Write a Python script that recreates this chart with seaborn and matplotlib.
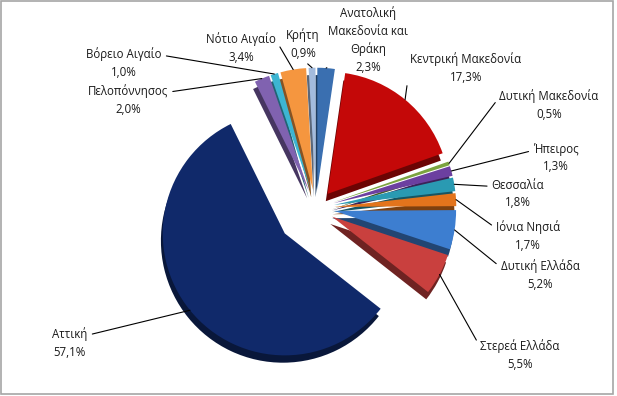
import numpy as np
import matplotlib
matplotlib.use("Agg")
import matplotlib.pyplot as plt
import matplotlib.colors as mcolors
from matplotlib.patches import Rectangle
import seaborn as sns

# ---- data ----
regions = ["Ανατολική\nΜακεδονία και\nΘράκη", "Κεντρική Μακεδονία", "Δυτική Μακεδονία",
           "Ήπειρος", "Θεσσαλία", "Ιόνια Νησιά", "Δυτική Ελλάδα", "Στερεά Ελλάδα",
           "Αττική", "Πελοπόννησος", "Βόρειο Αιγαίο", "Νότιο Αιγαίο", "Κρήτη"]
shares = [2.3, 17.3, 0.5, 1.3, 1.8, 1.7, 5.2, 5.5, 57.1, 2.0, 1.0, 3.4, 0.9]

# ---- styles ----
colors = ["#3A6FB0", "#C40808", "#7BA33F", "#6C3FA0", "#2A9AB2", "#E3741C", "#3D7ED0",
          "#C9403E", "#10296A", "#8062B0", "#3DB5D2", "#F5963F", "#A3BBDD"]
explode = [0.15, 0.15, 0.15, 0.15, 0.15, 0.15, 0.15, 0.15, 0.33, 0.15, 0.15, 0.15, 0.15]
# label text centre (px), relpos of leader on text box
label_pos = [(368, 40, (0.0, 0.1)), (466, 68, (0.0, 0.75)), (549, 105, (0.0, 0.75)),
             (556, 158, (0.0, 0.75)), (518, 194, (0.0, 0.75)), (528, 236, (0.0, 0.75)),
             (540, 275, (0.0, 0.75)), (520, 355, (0.0, 0.75)), (70, 343, (1.0, 0.75)),
             (128, 100, (1.0, 0.75)), (124, 63, (1.0, 0.75)), (241, 48, (1.0, 0.75)),
             (303, 44, (0.5, 0.0))]

W, H = 617, 396
sns.set_theme(style="white")
plt.rcParams["font.family"] = ["Open Sans", "DejaVu Sans"]

fig = plt.figure(figsize=(W / 100, H / 100), dpi=100)
fig.patch.set_facecolor("white")
fig.add_artist(Rectangle((0.002, 0.004), 0.992, 0.994, transform=fig.transFigure,
                         fill=False, edgecolor="#A6A6A6", lw=1.2))

R = 122.0  # px per data unit
cxp, cyp = 316, 208
ax = fig.add_axes([(cxp - 1.5 * R) / W, 1 - (cyp + 1.5 * R) / H, 3 * R / W, 3 * R / H])

def darker(c, f=0.55):
    r, g, b = mcolors.to_rgb(c)
    return (r * f, g * f, b * f)

side_colors = [darker(c) for c in colors]
# extruded "side" layer
ax.pie(shares, explode=explode, colors=side_colors, startangle=90, counterclock=False,
       center=(-0.015, -0.06), wedgeprops=dict(linewidth=0))
# top layer
wedges, _ = ax.pie(shares, explode=explode, colors=colors, startangle=90,
                   counterclock=False, wedgeprops=dict(linewidth=0))
ax.set_aspect("auto")
ax.set_xlim(-1.5, 1.5)
ax.set_ylim(-1.5, 1.5)
ax.axis("off")

for w, name, v, (px, py, rp) in zip(wedges, regions, shares, label_pos):
    th = np.deg2rad((w.theta1 + w.theta2) / 2)
    cx, cy = w.center
    tip = (cx + w.r * np.cos(th), cy + w.r * np.sin(th))
    txt = f"{name}\n{v:.1f}".replace(".", ",") + "%"
    ax.annotate(txt, xy=tip, xycoords="data",
                xytext=(px / W, 1 - py / H), textcoords="figure fraction",
                ha="center", va="center", fontsize=8.3, linespacing=1.45, color="#1a1a1a",
                arrowprops=dict(arrowstyle="-", color="black", lw=0.8,
                                shrinkA=1, shrinkB=0, relpos=rp))

fig.savefig("out.png", dpi=100, facecolor="white")
